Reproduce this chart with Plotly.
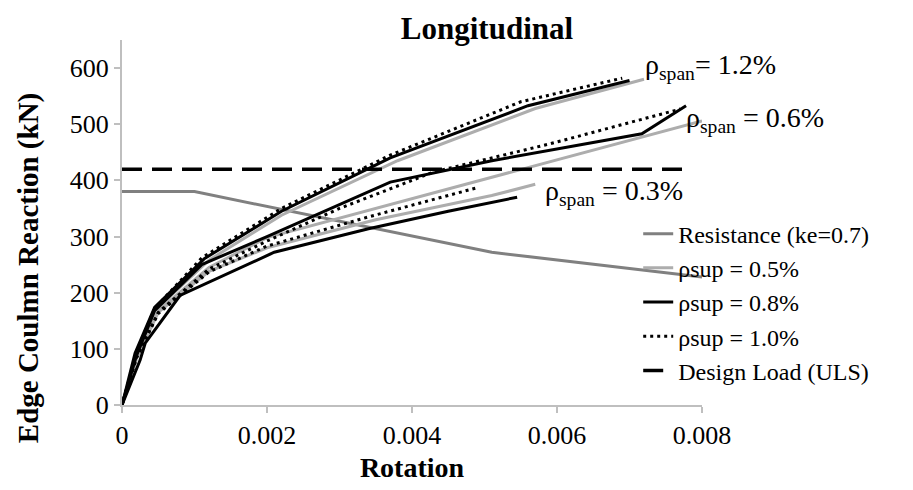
import plotly.graph_objects as go

# ---------------- data ----------------
res_x = [0, 0.001, 0.0051, 0.008]
res_y = [380, 380, 272, 228]

design_x = [0, 0.0078]
design_y = [420, 420]

# rho_span = 1.2 %
a05_x = [0, 0.0002, 0.00045, 0.0012, 0.0022, 0.0038, 0.0057, 0.0072]
a05_y = [0, 88, 168, 258, 338, 435, 528, 580]
a08_x = [0, 0.00018, 0.00045, 0.00114, 0.0022, 0.0037, 0.0056, 0.0070]
a08_y = [0, 92, 174, 261, 345, 440, 533, 578]
a10_x = [0, 0.0002, 0.00045, 0.0011, 0.0022, 0.0037, 0.0055, 0.0069]
a10_y = [0, 93, 172, 262, 350, 445, 540, 582]

# rho_span = 0.6 %
b05_x = [0, 0.0002, 0.0005, 0.0012, 0.002, 0.0051, 0.0080]
b05_y = [0, 85, 168, 245, 298, 405, 506]
b08_x = [0, 0.0002, 0.00045, 0.0011, 0.002, 0.0037, 0.0051, 0.00717, 0.00778]
b08_y = [0, 88, 168, 250, 300, 397, 435, 483, 533]
b10_x = [0, 0.0002, 0.0005, 0.0012, 0.002, 0.003, 0.0043, 0.0059, 0.0077]
b10_y = [0, 85, 165, 242, 292, 350, 415, 465, 527]

# rho_span = 0.3 %
c05_x = [0, 0.0002, 0.0005, 0.0012, 0.002, 0.0035, 0.0051, 0.0057]
c05_y = [0, 82, 165, 238, 280, 330, 373, 393]
c08_x = [0, 0.00025, 0.00032, 0.0008, 0.0021, 0.0034, 0.0045, 0.0051, 0.00545]
c08_y = [0, 80, 110, 195, 272, 314, 345, 360, 370]
c10_x = [0, 0.0002, 0.0005, 0.0012, 0.002, 0.0034, 0.0049]
c10_y = [0, 84, 163, 237, 283, 335, 387]

x_ticks = [0, 0.002, 0.004, 0.006, 0.008]
x_ticktext = ["0", "0.002", "0.004", "0.006", "0.008"]
y_ticks = [0, 100, 200, 300, 400, 500, 600]

span_labels = ["ρ<sub>span</sub>= 1.2%", "ρ<sub>span</sub> = 0.6%", "ρ<sub>span</sub> = 0.3%"]
span_label_x = [0.00719, 0.00775, 0.00581]
span_label_y = [602, 508, 378]

# ---------------- styles ----------------
FONT = "Liberation Serif"
GRAY_RES = "#808080"
GRAY_LIGHT = "#adadad"
BLACK = "#000000"
AXIS = "#bfbfbf"

fig = go.Figure()

fig.add_trace(go.Scatter(x=res_x, y=res_y, mode="lines", name="Resistance (ke=0.7)",
                         line=dict(color=GRAY_RES, width=3), legendgroup="res"))

groups = [
    ("ρsup = 0.5%", "s05", dict(color=GRAY_LIGHT, width=3),
     [(a05_x, a05_y), (b05_x, b05_y), (c05_x, c05_y)]),
    ("ρsup = 0.8%", "s08", dict(color=BLACK, width=3),
     [(a08_x, a08_y), (b08_x, b08_y), (c08_x, c08_y)]),
    ("ρsup = 1.0%", "s10", dict(color=BLACK, width=3, dash="3px,4px"),
     [(a10_x, a10_y), (b10_x, b10_y), (c10_x, c10_y)]),
]
for name, grp, line, series in groups:
    for i, (xs, ys) in enumerate(series):
        fig.add_trace(go.Scatter(x=xs, y=ys, mode="lines", name=name, legendgroup=grp,
                                 showlegend=(i == 0), line=line))

fig.add_trace(go.Scatter(x=design_x, y=design_y, mode="lines", name="Design Load (ULS)",
                         line=dict(color=BLACK, width=3.5, dash="20px,10px"), legendgroup="dl"))

for t, xx, yy in zip(span_labels, span_label_x, span_label_y):
    fig.add_annotation(x=xx, y=yy, xref="x", yref="y", text=t, showarrow=False,
                       xanchor="left", yanchor="middle",
                       font=dict(family=FONT, size=28, color=BLACK))

# y-axis title (placed like the reference, slightly below the axis centre)
fig.add_annotation(x=-0.162, y=0.375, xref="paper", yref="paper",
                   text="<b>Edge Coulmn Reaction (kN)</b>", textangle=-90, showarrow=False,
                   xanchor="center", yanchor="middle",
                   font=dict(family=FONT, size=29, color=BLACK))

fig.update_layout(
    width=913, height=490,
    margin=dict(l=122, r=211, t=40, b=85),
    paper_bgcolor="white", plot_bgcolor="white",
    font=dict(family=FONT, size=24, color=BLACK),
    title=dict(text="<b>Longitudinal</b>", x=(487 / 913), xanchor="center",
               y=1 - 28 / 490, yanchor="middle", yref="container",
               font=dict(family=FONT, size=31, color=BLACK)),
    showlegend=True,
    legend=dict(x=0.89, y=0.53, xanchor="left", yanchor="top",
                bgcolor="rgba(0,0,0,0)", font=dict(family=FONT, size=24, color=BLACK),
                tracegroupgap=0, itemwidth=30),
    xaxis=dict(range=[0, 0.008], tickvals=x_ticks, ticktext=x_ticktext,
               showgrid=False, zeroline=False, showline=True, linecolor=AXIS, linewidth=2,
               ticks="outside", ticklen=6, tickwidth=2, tickcolor=AXIS,
               tickfont=dict(family=FONT, size=26, color=BLACK),
               title=dict(text="<b>Rotation</b>", font=dict(family=FONT, size=28, color=BLACK),
                          standoff=8)),
    yaxis=dict(range=[0, 650], tickvals=y_ticks,
               showgrid=False, zeroline=False, showline=True, linecolor=AXIS, linewidth=2,
               ticks="outside", ticklen=6, tickwidth=2, tickcolor=AXIS,
               tickfont=dict(family=FONT, size=26, color=BLACK)),
)

fig.write_html("out.html")
